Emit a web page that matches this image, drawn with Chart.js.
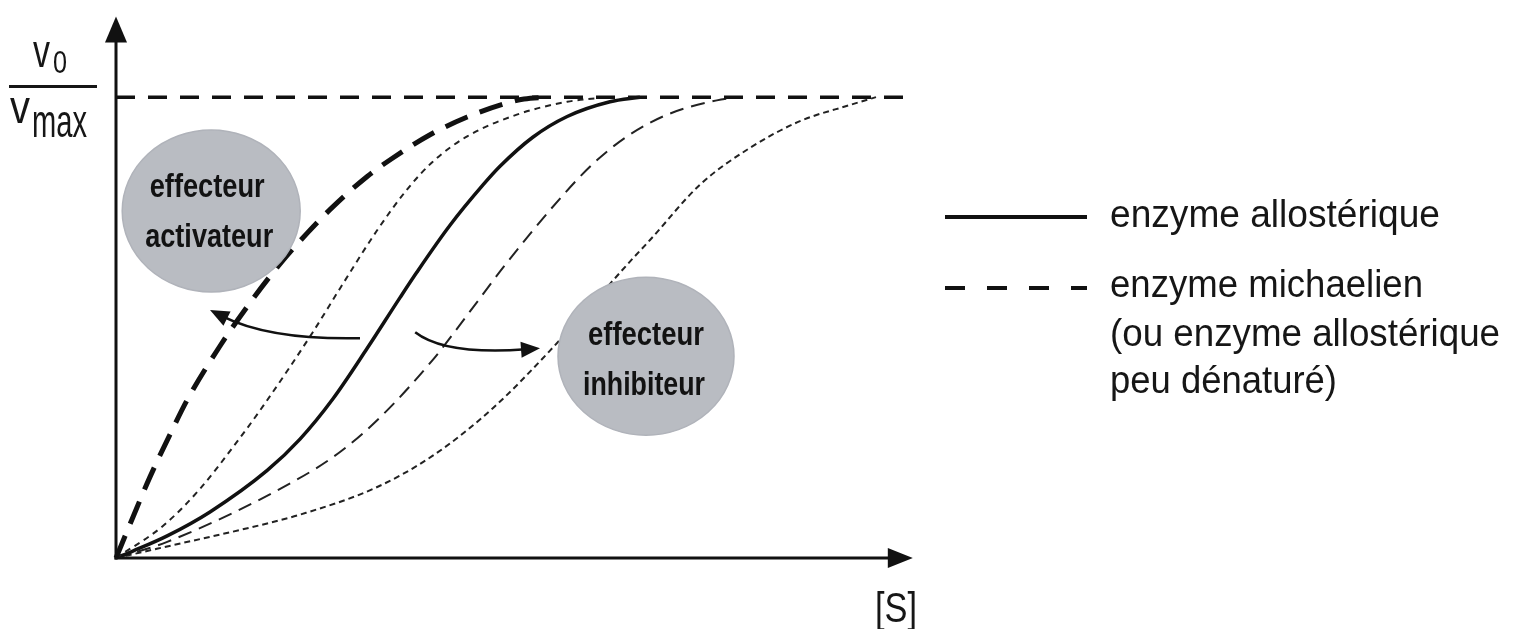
<!DOCTYPE html>
<html>
<head>
<meta charset="utf-8">
<script src="https://cdn.jsdelivr.net/npm/chart.js@4/dist/chart.umd.min.js"></script>
<style>
  html, body { margin: 0; padding: 0; background: #fff; }
  #wrap { width: 1521px; height: 629px; position: relative; }
</style>
</head>
<body>
<div id="wrap"><canvas id="graphique"></canvas></div>
<script>
// Courbes v0/vmax = f([S]) (unités arbitraires)

// enzyme michaelien (tirets épais)
const S_michaelien = [0, 2.1, 4.25, 6.75, 8.9, 13, 17.1, 20.5, 23.9, 27.1, 31.4, 34.6, 39.2, 43.9, 48.4, 51, 54];
const V_michaelien = [0, 0.088, 0.176, 0.268, 0.343, 0.46, 0.562, 0.638, 0.705, 0.762, 0.828, 0.868, 0.918, 0.957, 0.985, 0.996, 1.0];

// enzyme allostérique + effecteur activateur (pointillés fins)
const S_activateur = [0, 5.9, 10.5, 14.6, 18.4, 24.6, 28, 32.6, 36.4, 39.6, 43.9, 50.1, 56.4, 61.5];
const V_activateur = [0, 0.07, 0.15, 0.24, 0.33, 0.49, 0.585, 0.71, 0.8, 0.86, 0.915, 0.962, 0.99, 1.0];

// enzyme allostérique (trait plein)
const S_allosterique = [0, 2.1, 6.4, 11.75, 18.9, 23, 27.1, 31.4, 35.5, 37.6, 41.75, 45.9, 48, 52.1, 56.4, 61.75, 65.5];
const V_allosterique = [0, 0.015, 0.048, 0.1, 0.19, 0.258, 0.345, 0.455, 0.565, 0.62, 0.722, 0.81, 0.85, 0.913, 0.958, 0.99, 1.0];

// effecteur inhibiteur (tirets fins)
const S_inhibiteur1 = [0, 6.4, 22.6, 28, 33, 39.6, 44.25, 48.6, 55.5, 59.6, 63.9, 68.9, 75.1, 78];
const V_inhibiteur1 = [0, 0.035, 0.17, 0.23, 0.305, 0.43, 0.535, 0.635, 0.78, 0.855, 0.915, 0.962, 0.993, 1.0];

// effecteur inhibiteur plus fort (pointillés fins, en bas)
const S_inhibiteur2 = [0, 5.1, 18.9, 23, 32.4, 39.6, 47.1, 54.25, 61.75, 64.6, 66.75, 73, 79.25, 85.5, 91.75, 95];
const V_inhibiteur2 = [0, 0.02, 0.075, 0.094, 0.152, 0.222, 0.325, 0.45, 0.595, 0.65, 0.69, 0.81, 0.89, 0.948, 0.983, 1.0];

// asymptote vmax
const S_vmax = [0, 98.6];
const V_vmax = [1, 1];

// annotations (en unités des axes)
const bulleActivateur = { S: 11.9, V: 0.753, texte: ['effecteur', 'activateur'] };
const bulleInhibiteur = { S: 66.25, V: 0.438, texte: ['effecteur', 'inhibiteur'] };
const flecheActivateur = [[30.5, 0.477], [19.25, 0.473], [11.75, 0.538]];
const flecheInhibiteur = [[37.4, 0.49], [41.1, 0.44], [53, 0.455]];

const legendeTextes = ['enzyme allostérique', 'enzyme michaelien', '(ou enzyme allostérique', 'peu dénaturé)'];

function points(xs, ys) {
    return xs.map((x, i) => ({ x: x, y: ys[i] }));
}

function serie(xs, ys, largeur, tirets, couleur) {
    return {
        data: points(xs, ys),
        borderColor: couleur || '#111',
        borderWidth: largeur,
        borderDash: tirets,
        pointRadius: 0,
        fill: false,
        cubicInterpolationMode: 'monotone',
        clip: false
    };
}

const POLICE = '"Liberation Sans Narrow", "Liberation Sans", Arial, sans-serif';

// texte étiré/compressé à une largeur donnée
function texteAjuste(ctx, txt, x, y, largeur, centre) {
    const w = ctx.measureText(txt).width;
    const s = largeur / w;
    ctx.save();
    ctx.translate(centre ? x - largeur / 2 : x, y);
    ctx.scale(s, 1);
    ctx.textAlign = 'left';
    ctx.fillText(txt, 0, 0);
    ctx.restore();
}

function pointe(ctx, x1, y1, x2, y2, long, demi) {
    const a = Math.atan2(y2 - y1, x2 - x1);
    ctx.beginPath();
    ctx.moveTo(x2, y2);
    ctx.lineTo(x2 - long * Math.cos(a) + demi * Math.sin(a), y2 - long * Math.sin(a) - demi * Math.cos(a));
    ctx.lineTo(x2 - long * Math.cos(a) - demi * Math.sin(a), y2 - long * Math.sin(a) + demi * Math.cos(a));
    ctx.closePath();
    ctx.fill();
}

const decor = {
    id: 'decor',
    beforeDatasetsDraw(chart) {
        const { ctx, scales: { x, y } } = chart;
        const x0 = x.getPixelForValue(0), y0 = y.getPixelForValue(0);
        ctx.save();
        ctx.strokeStyle = '#111';
        ctx.fillStyle = '#111';
        ctx.lineWidth = 3;
        // axe vertical
        const yTip = y.getPixelForValue(1.175);
        ctx.beginPath();
        ctx.moveTo(x0, y0 + 1.5);
        ctx.lineTo(x0, yTip + 20);
        ctx.stroke();
        pointe(ctx, x0, yTip + 40, x0, yTip, 26, 11);
        // axe horizontal
        const xTip = x.getPixelForValue(99.6);
        ctx.beginPath();
        ctx.moveTo(x0 - 1.5, y0);
        ctx.lineTo(xTip - 20, y0);
        ctx.stroke();
        pointe(ctx, xTip - 40, y0, xTip, y0, 25, 10);
        ctx.restore();
    },
    afterDatasetsDraw(chart) {
        const { ctx, scales: { x, y } } = chart;
        ctx.save();

        // bulles
        [bulleActivateur, bulleInhibiteur].forEach(function(b, i) {
            const cx = x.getPixelForValue(b.S), cy = y.getPixelForValue(b.V);
            ctx.beginPath();
            ctx.ellipse(cx, cy, i === 0 ? 89 : 88, i === 0 ? 81 : 79, 0, 0, Math.PI * 2);
            ctx.fillStyle = '#b9bcc2';
            ctx.fill();
            ctx.lineWidth = 1.5;
            ctx.strokeStyle = '#b0b3ba';
            ctx.stroke();
            ctx.fillStyle = '#121212';
            ctx.font = 'bold 33px ' + POLICE;
            if (i === 0) {
                texteAjuste(ctx, b.texte[0], cx - 4, cy - 14, 115, true);
                texteAjuste(ctx, b.texte[1], cx - 2, cy + 36, 128, true);
            } else {
                texteAjuste(ctx, b.texte[0], cx, cy - 11, 116, true);
                texteAjuste(ctx, b.texte[1], cx - 2, cy + 39, 122, true);
            }
        });

        // flèches
        ctx.strokeStyle = '#111';
        ctx.fillStyle = '#111';
        ctx.lineWidth = 2.5;
        [flecheActivateur, flecheInhibiteur].forEach(function(f) {
            const p = f.map(q => [x.getPixelForValue(q[0]), y.getPixelForValue(q[1])]);
            const a = Math.atan2(p[2][1] - p[1][1], p[2][0] - p[1][0]);
            const fin = [p[2][0] - 14 * Math.cos(a), p[2][1] - 14 * Math.sin(a)];
            ctx.beginPath();
            ctx.moveTo(p[0][0], p[0][1]);
            ctx.quadraticCurveTo(p[1][0], p[1][1], fin[0], fin[1]);
            ctx.stroke();
            pointe(ctx, p[1][0], p[1][1], p[2][0], p[2][1], 19, 8);
        });

        // légende
        ctx.lineWidth = 4;
        ctx.beginPath();
        ctx.moveTo(945, 217);
        ctx.lineTo(1087, 217);
        ctx.stroke();
        ctx.setLineDash([20, 22]);
        ctx.beginPath();
        ctx.moveTo(945, 288);
        ctx.lineTo(1087, 288);
        ctx.stroke();
        ctx.setLineDash([]);

        ctx.fillStyle = '#161616';
        ctx.font = '38px ' + POLICE;
        texteAjuste(ctx, legendeTextes[0], 1110, 227, 330, false);
        texteAjuste(ctx, legendeTextes[1], 1110, 297, 313, false);
        texteAjuste(ctx, legendeTextes[2], 1110, 346, 390, false);
        texteAjuste(ctx, legendeTextes[3], 1110, 393, 227, false);

        // titre de l'axe vertical : v0 / vmax
        ctx.font = '46px ' + POLICE;
        texteAjuste(ctx, 'v', 33, 67, 17, false);
        ctx.font = '32px ' + POLICE;
        texteAjuste(ctx, '0', 53, 73, 14, false);
        ctx.fillRect(9, 85, 88, 3);
        ctx.font = '46px ' + POLICE;
        texteAjuste(ctx, 'v', 10, 123, 20, false);
        texteAjuste(ctx, 'max', 32, 137, 55, false);

        // titre de l'axe horizontal
        ctx.font = '42px ' + POLICE;
        texteAjuste(ctx, '[S]', 875, 622, 42, false);

        ctx.restore();
    }
};

const ctx = document.getElementById('graphique').getContext('2d');
window.graphique = new Chart(ctx, {
    type: 'line',
    data: {
        datasets: [
            serie(S_vmax, V_vmax, 3.5, [19, 13]),
            serie(S_michaelien, V_michaelien, 5, [24, 13]),
            serie(S_activateur, V_activateur, 2, [6, 5], '#222'),
            serie(S_allosterique, V_allosterique, 3.5, []),
            serie(S_inhibiteur1, V_inhibiteur1, 2, [14, 8], '#222'),
            serie(S_inhibiteur2, V_inhibiteur2, 2, [6, 4], '#222')
        ]
    },
    options: {
        responsive: true,
        maintainAspectRatio: false,
        animation: false,
        events: [],
        layout: {
            padding: { left: 116, right: 605, top: 5, bottom: 71 }
        },
        plugins: {
            legend: { display: false },
            tooltip: { enabled: false }
        },
        scales: {
            x: { type: 'linear', min: 0, max: 100, display: false },
            y: { type: 'linear', min: 0, max: 1.2, display: false }
        }
    },
    plugins: [decor]
});
</script>
</body>
</html>
